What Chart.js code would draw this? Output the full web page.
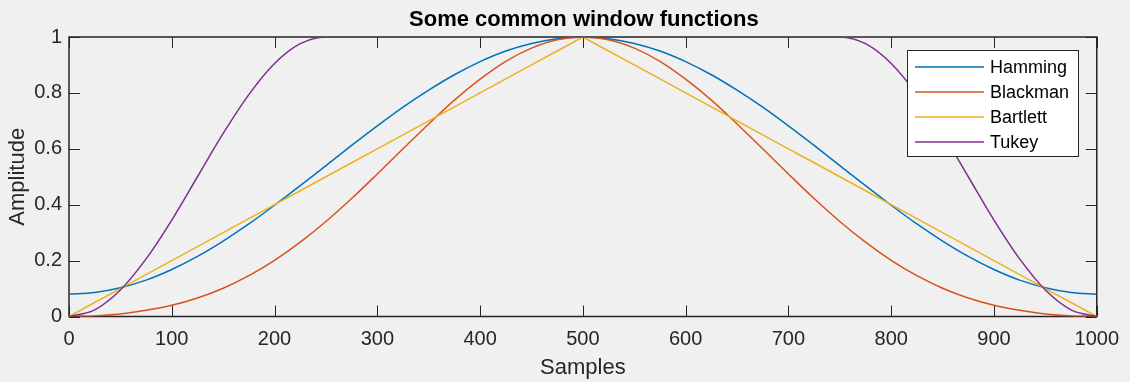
<!DOCTYPE html>
<html>
<head>
<meta charset="utf-8">
<script src="https://cdn.jsdelivr.net/npm/chart.js@4.4.1/dist/chart.umd.min.js"></script>
<style>
  html, body { margin: 0; padding: 0; background: #f0f0f0; }
  #wrap { width: 1130px; height: 382px; position: relative; }
</style>
</head>
<body>
<div id="wrap"><canvas id="c" width="1130" height="382"></canvas></div>
<script>
// ---- data ----
const samples = [0,25,50,75,100,125,150,175,200,225,250,275,300,325,350,375,400,425,450,475,500,
                 525,550,575,600,625,650,675,700,725,750,775,800,825,850,875,900,925,950,975,1000];
const hamming = [0.080,0.086,0.103,0.130,0.168,0.215,0.270,0.331,0.398,0.468,0.540,0.612,0.682,0.749,0.810,0.865,0.912,0.950,0.977,0.994,1.000,
                 0.994,0.977,0.950,0.912,0.865,0.810,0.749,0.682,0.612,0.540,0.468,0.398,0.331,0.270,0.215,0.168,0.130,0.103,0.086,0.080];
const blackman = [0.000,0.002,0.009,0.022,0.040,0.066,0.101,0.146,0.201,0.266,0.340,0.422,0.510,0.600,0.689,0.774,0.849,0.913,0.960,0.990,1.000,
                  0.990,0.960,0.913,0.849,0.774,0.689,0.600,0.510,0.422,0.340,0.266,0.201,0.146,0.101,0.066,0.040,0.022,0.009,0.002,0.000];
const bartlett = [0.00,0.05,0.10,0.15,0.20,0.25,0.30,0.35,0.40,0.45,0.50,0.55,0.60,0.65,0.70,0.75,0.80,0.85,0.90,0.95,1.00,
                  0.95,0.90,0.85,0.80,0.75,0.70,0.65,0.60,0.55,0.50,0.45,0.40,0.35,0.30,0.25,0.20,0.15,0.10,0.05,0.00];
const tukey = [0.000,0.024,0.095,0.206,0.345,0.500,0.655,0.794,0.905,0.976,1,1,1,1,1,1,1,1,1,1,1,
               1,1,1,1,1,1,1,1,1,1,0.976,0.905,0.794,0.655,0.500,0.345,0.206,0.095,0.024,0.000];
const seriesNames = ['Hamming','Blackman','Bartlett','Tukey'];
const xTicks = [0,100,200,300,400,500,600,700,800,900,1000];
const xTickLabels = ['0','100','200','300','400','500','600','700','800','900','1000'];
const yTicks = [0,0.2,0.4,0.6,0.8,1];
const yTickLabels = ['0','0.2','0.4','0.6','0.8','1'];
const titleText = 'Some common window functions';
const xLabel = 'Samples';
const yLabel = 'Amplitude';

// ---- styles ----
const colors = ['#0072BD','#D95319','#EDB120','#7E2F8E'];
const axisColor = '#262626';
const FONT = '"Liberation Sans", Arial, Helvetica, sans-serif';
const seriesValues = [hamming, blackman, bartlett, tukey];

const datasets = seriesValues.map((vals, i) => ({
  label: seriesNames[i],
  data: samples.map((s, k) => ({x: s, y: vals[k]})),
  borderColor: colors[i],
  backgroundColor: colors[i],
  borderWidth: 1.5,
  pointRadius: 0,
  fill: false,
  cubicInterpolationMode: i === 2 ? 'default' : 'monotone',
  tension: 0,
  order: 4 - i
}));

const framePlugin = {
  id: 'frame',
  beforeDraw(chart) {
    const ctx = chart.ctx;
    ctx.save();
    ctx.fillStyle = '#f0f0f0';
    ctx.fillRect(0, 0, chart.width, chart.height);
    ctx.restore();
  },
  beforeDatasetsDraw(chart) {
    const {ctx, chartArea: a, scales} = chart;
    const tl = 11;
    ctx.save();
    ctx.strokeStyle = axisColor;
    ctx.lineWidth = 1;
    ctx.beginPath();
    xTicks.forEach(v => {
      const px = Math.round(scales.x.getPixelForValue(v)) + 0.5;
      ctx.moveTo(px, a.bottom); ctx.lineTo(px, a.bottom - tl);
      ctx.moveTo(px, a.top); ctx.lineTo(px, a.top + tl);
    });
    yTicks.forEach(v => {
      const py = Math.round(scales.y.getPixelForValue(v)) + 0.5;
      ctx.moveTo(a.left, py); ctx.lineTo(a.left + tl, py);
      ctx.moveTo(a.right, py); ctx.lineTo(a.right - tl, py);
    });
    ctx.stroke();
    ctx.lineWidth = 1.5;
    ctx.strokeRect(a.left, a.top, a.right - a.left, a.bottom - a.top);
    ctx.restore();
  },
  afterDraw(chart) {
    const {ctx, chartArea: a} = chart;
    ctx.save();
    // title
    ctx.fillStyle = '#000';
    ctx.font = 'bold 22px ' + FONT;
    ctx.textAlign = 'center';
    ctx.textBaseline = 'middle';
    ctx.fillText(titleText, (a.left + a.right) / 2 + 1, 20);
    // legend box
    const bx = 907.5, by = 50.5, bw = 171, bh = 106;
    ctx.fillStyle = '#ffffff';
    ctx.fillRect(bx, by, bw, bh);
    ctx.strokeStyle = axisColor;
    ctx.lineWidth = 1;
    ctx.strokeRect(bx, by, bw, bh);
    ctx.font = '18px ' + FONT;
    ctx.textAlign = 'left';
    chart.data.datasets.forEach((ds, i) => {
      const y = 67 + i * 25;
      ctx.strokeStyle = ds.borderColor;
      ctx.lineWidth = 1.5;
      ctx.beginPath();
      ctx.moveTo(915, y); ctx.lineTo(984, y);
      ctx.stroke();
      ctx.fillStyle = '#000';
      ctx.fillText(ds.label, 990, y + 1);
    });
    ctx.restore();
  }
};

new Chart(document.getElementById('c'), {
  type: 'line',
  data: { datasets },
  options: {
    responsive: false,
    animation: false,
    devicePixelRatio: 1,
    layout: { padding: { top: 37, right: 31.5, left: 0, bottom: 0 } },
    plugins: { legend: { display: false }, tooltip: { enabled: false }, title: { display: false } },
    scales: {
      x: {
        type: 'linear', min: 0, max: 1000,
        afterBuildTicks: s => { s.ticks = xTicks.map(v => ({value: v})); },
        afterFit: s => { s.height = 65.5; },
        grid: { display: false, drawTicks: false },
        border: { display: false },
        ticks: { color: axisColor, font: { family: FONT, size: 20 }, padding: 11, maxRotation: 0, autoSkip: false,
                 callback: (v, i) => xTickLabels[i] },
        title: { display: true, text: xLabel, color: axisColor, font: { family: FONT, size: 22 }, padding: { top: 0, bottom: 1 } }
      },
      y: {
        type: 'linear', min: 0, max: 1,
        afterBuildTicks: s => { s.ticks = yTicks.map(v => ({value: v})); },
        afterFit: s => { s.width = 69; },
        grid: { display: false, drawTicks: false },
        border: { display: false },
        ticks: { color: axisColor, font: { family: FONT, size: 20 }, padding: 7, autoSkip: false,
                 callback: (v, i) => yTickLabels[i] },
        title: { display: true, text: yLabel, color: axisColor, font: { family: FONT, size: 22 }, padding: { top: 5, bottom: 0 } }
      }
    }
  },
  plugins: [framePlugin]
});
</script>
</body>
</html>
